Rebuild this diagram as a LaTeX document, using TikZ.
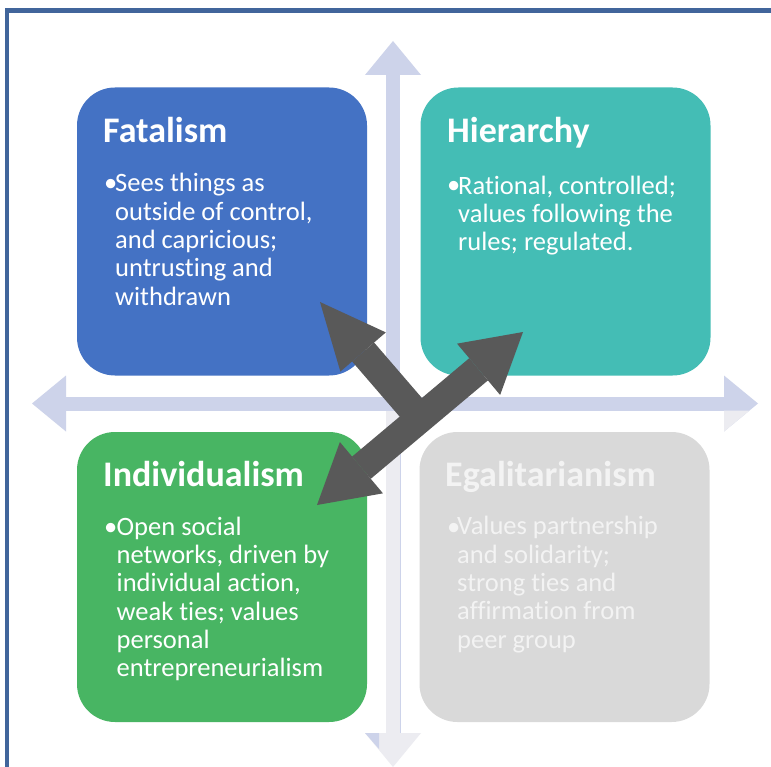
\documentclass[tikz,border=0pt]{standalone}
\usepackage{fontspec}
\setmainfont{Carlito}[Ligatures=NoCommon]
\usetikzlibrary{arrows.meta}
\definecolor{fatblue}{HTML}{4472C4}
\definecolor{hierteal}{HTML}{44BDB5}
\definecolor{indgreen}{HTML}{48B563}
\definecolor{egagray}{HTML}{D9D9D9}
\definecolor{egatext}{HTML}{F3F3F3}
\definecolor{darkarrow}{HTML}{595959}
\definecolor{axislav}{HTML}{CDD3EA}
\definecolor{axislight}{HTML}{ECECF1}
\definecolor{framecol}{HTML}{41659B}
\begin{document}
\begin{tikzpicture}[x=1pt,y=-1pt,
  box/.style={rounded corners=38pt, minimum width=290pt, minimum height=288pt, inner sep=0pt, draw=none},
  ttl/.style={anchor=base west, text=white, font=\fontsize{36}{40}\selectfont\bfseries, inner sep=0pt},
  body/.style={anchor=base west, text=white, align=left, font=\fontsize{26.5}{28.33}\selectfont, inner sep=0pt},
  axisline/.style={line width=14pt, draw=#1},
  axtip/.style={-{Triangle[length=34pt,width=56pt,line width=0pt]}},
  bigarrow/.style={draw=darkarrow, line width=29pt}
]
\useasboundingbox (0,0) rectangle (771,767);
\clip (0,0) rectangle (771,767);
\fill[white] (0,0) rectangle (771,767);

% frame
\coordinate (frBL) at (7,780);
\coordinate (frTL) at (7,10.5);
\coordinate (frTR) at (780,10.5);
\draw[framecol, line width=4.5pt] (frBL) -- (frTL) -- (frTR);

% axes
\coordinate (ctr) at (393,403.5);
\coordinate (vtop) at (393,41);
\coordinate (vbot) at (393,767);
\coordinate (hleft) at (32,403.5);
\coordinate (hright) at (758,403.5);
\draw[axisline=axislight, axtip] (ctr) -- (vbot);
\fill[axislav] (365,733) -- (379,733) -- (379,749) -- cycle;
\draw[axislav, line width=1.5pt] (400.5,411) -- (400.5,733);
\draw[axisline=axislav, axtip] (ctr) -- (vtop);
\draw[axisline=axislav, axtip] (ctr) -- (hleft);
\draw[axisline=axislav, axtip] (ctr) -- (hright);
\fill[axislight] (724,410.5) -- (724,431.5) -- (749.5,410.5) -- cycle;

% boxes
\node[box, fill=fatblue] (fat) at (222,231.5) {};
\node[box, fill=hierteal] (hier) at (565.5,231.5) {};
\node[box, fill=indgreen, minimum height=290pt] (ind) at (222,577) {};
\node[box, fill=egagray, minimum height=290pt] (ega) at (564.5,577) {};

% Fatalism (body nodes anchored at the baseline of their last line)
\node[ttl] (fatT) at (103,143) {Fatalism};
\node[body] (fatB) at (104,192) {•};
\node[body] (fatX) at (115,305.3) {Sees things as\\outside of control,\\and capricious;\\untrusting and\\withdrawn};

% Hierarchy
\node[ttl] (hierT) at (447,143) {Hierarchy};
\node[body] (hierB) at (447,194) {•};
\node[body] (hierX) at (458,250.7) {Rational, controlled;\\values following the\\rules; regulated.};

% Individualism
\node[ttl] (indT) at (103,486) {Individualism};
\node[body] (indB) at (104,535) {•};
\node[body] (indX) at (116.5,676.7) {Open social\\networks, driven by\\individual action,\\weak ties; values\\personal\\entrepreneurialism};

% Egalitarianism
\node[ttl, text=egatext] (egaT) at (445,486) {Egalitarianism};
\node[body, text=egatext] (egaB) at (447,535) {•};
\node[body, text=egatext] (egaX) at (457,648.3) {Values partnership\\and solidarity;\\strong ties and\\affirmation from\\peer group};

% dark arrows
\coordinate (jn) at (420,418);
\coordinate (fatTip) at (320,302);
\coordinate (hierTip) at (523,332);
\coordinate (indTip) at (317,505);
\draw[bigarrow, -{Triangle[length=66pt,width=60pt,line width=0pt]}] (jn) -- (fatTip);
\draw[bigarrow, {Triangle[length=58pt,width=67pt,line width=0pt]}-{Triangle[length=58pt,width=67pt,line width=0pt]}] (indTip) -- (hierTip);
\end{tikzpicture}
\end{document}
